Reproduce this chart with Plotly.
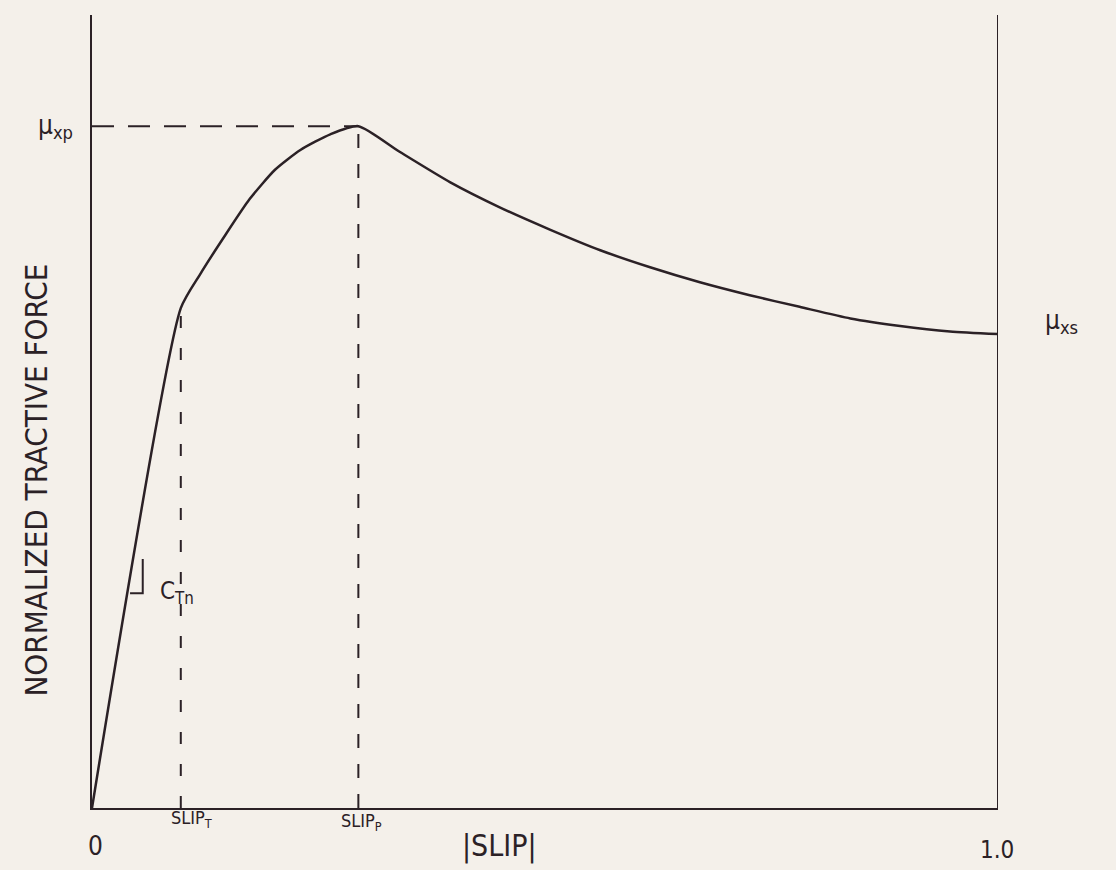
import plotly.graph_objects as go

# Data (normalized slip vs normalized tractive force)
slip = [0.0, 0.098, 0.119, 0.147, 0.174, 0.202, 0.230, 0.263, 0.294,
        0.340, 0.395, 0.450, 0.506, 0.561, 0.616, 0.671, 0.726, 0.781,
        0.837, 0.892, 0.947, 1.0]
force = [0.0, 0.733, 0.782, 0.840, 0.893, 0.936, 0.965, 0.988, 1.0,
         0.962, 0.918, 0.881, 0.848, 0.818, 0.793, 0.771, 0.752, 0.735,
         0.718, 0.707, 0.699, 0.695]
slip_t = 0.098
slip_p = 0.294
mu_t = 0.733
mu_p = 1.0
mu_s = 0.695
y_top = 1.163
slope_tri_x = [0.042, 0.056, 0.056]
slope_tri_y = [0.315, 0.315, 0.365]

ink = "#2b2126"
bg = "#f4f0ea"
hand = "DejaVu Sans Condensed, DejaVu Sans, sans-serif"

fig = go.Figure()
fig.add_trace(go.Scatter(x=[slip_t, slip_t], y=[0, mu_t], mode="lines",
                         line=dict(color=ink, width=2, dash="12px,20px"), hoverinfo="skip"))
fig.add_trace(go.Scatter(x=[slip_p, slip_p], y=[0, mu_p], mode="lines",
                         line=dict(color=ink, width=2, dash="14px,16px"), hoverinfo="skip"))
fig.add_trace(go.Scatter(x=[0, slip_p], y=[mu_p, mu_p], mode="lines",
                         line=dict(color=ink, width=2, dash="22px,14px"), hoverinfo="skip"))
fig.add_trace(go.Scatter(x=slip, y=force, mode="lines",
                         line=dict(color=ink, width=2.5, shape="spline", smoothing=0.6),
                         hoverinfo="skip"))
fig.add_trace(go.Scatter(x=slope_tri_x, y=slope_tri_y, mode="lines",
                         line=dict(color=ink, width=2), hoverinfo="skip"))
fig.add_trace(go.Scatter(x=[1.0, 1.0], y=[0, y_top], mode="lines",
                         line=dict(color=ink, width=2), hoverinfo="skip"))

fig.update_layout(
    width=1116, height=870,
    margin=dict(l=92, r=118, t=15, b=62),
    paper_bgcolor=bg, plot_bgcolor=bg,
    showlegend=False,
    xaxis=dict(range=[0, 1], showgrid=False, zeroline=False, showline=True,
               linecolor=ink, linewidth=2, showticklabels=False, ticks=""),
    yaxis=dict(range=[0, y_top], showgrid=False, zeroline=False, showline=True,
               linecolor=ink, linewidth=2, showticklabels=False, ticks=""),
)

def ann(text, x, y, size=22, **kw):
    fig.add_annotation(text=text, x=x, y=y, xref="paper", yref="paper", showarrow=False,
                       xanchor="center", yanchor="middle",
                       font=dict(family=hand, size=size, color=ink), **kw)

ann("NORMALIZED TRACTIVE FORCE", -0.062, 0.414, size=31, textangle=-90)
ann("μ<sub>xp</sub>", -0.04, 0.859, size=26)
ann("μ<sub>xs</sub>", 1.07, 0.614, size=26)
ann("C<sub>Tn</sub>", 0.094, 0.272, size=24)
ann("0", 0.004, -0.048, size=26)
ann("SLIP<sub>T</sub>", slip_t + 0.012, -0.014, size=18)
ann("SLIP<sub>P</sub>", slip_p + 0.004, -0.018, size=18)
ann("|SLIP|", 0.45, -0.048, size=30)
ann("1.0", 0.999, -0.053, size=24)

fig.write_html("out.html", config={"displayModeBar": False},
               post_script="document.body.style.margin='0';"
                           "document.body.style.background='#f4f0ea';")
